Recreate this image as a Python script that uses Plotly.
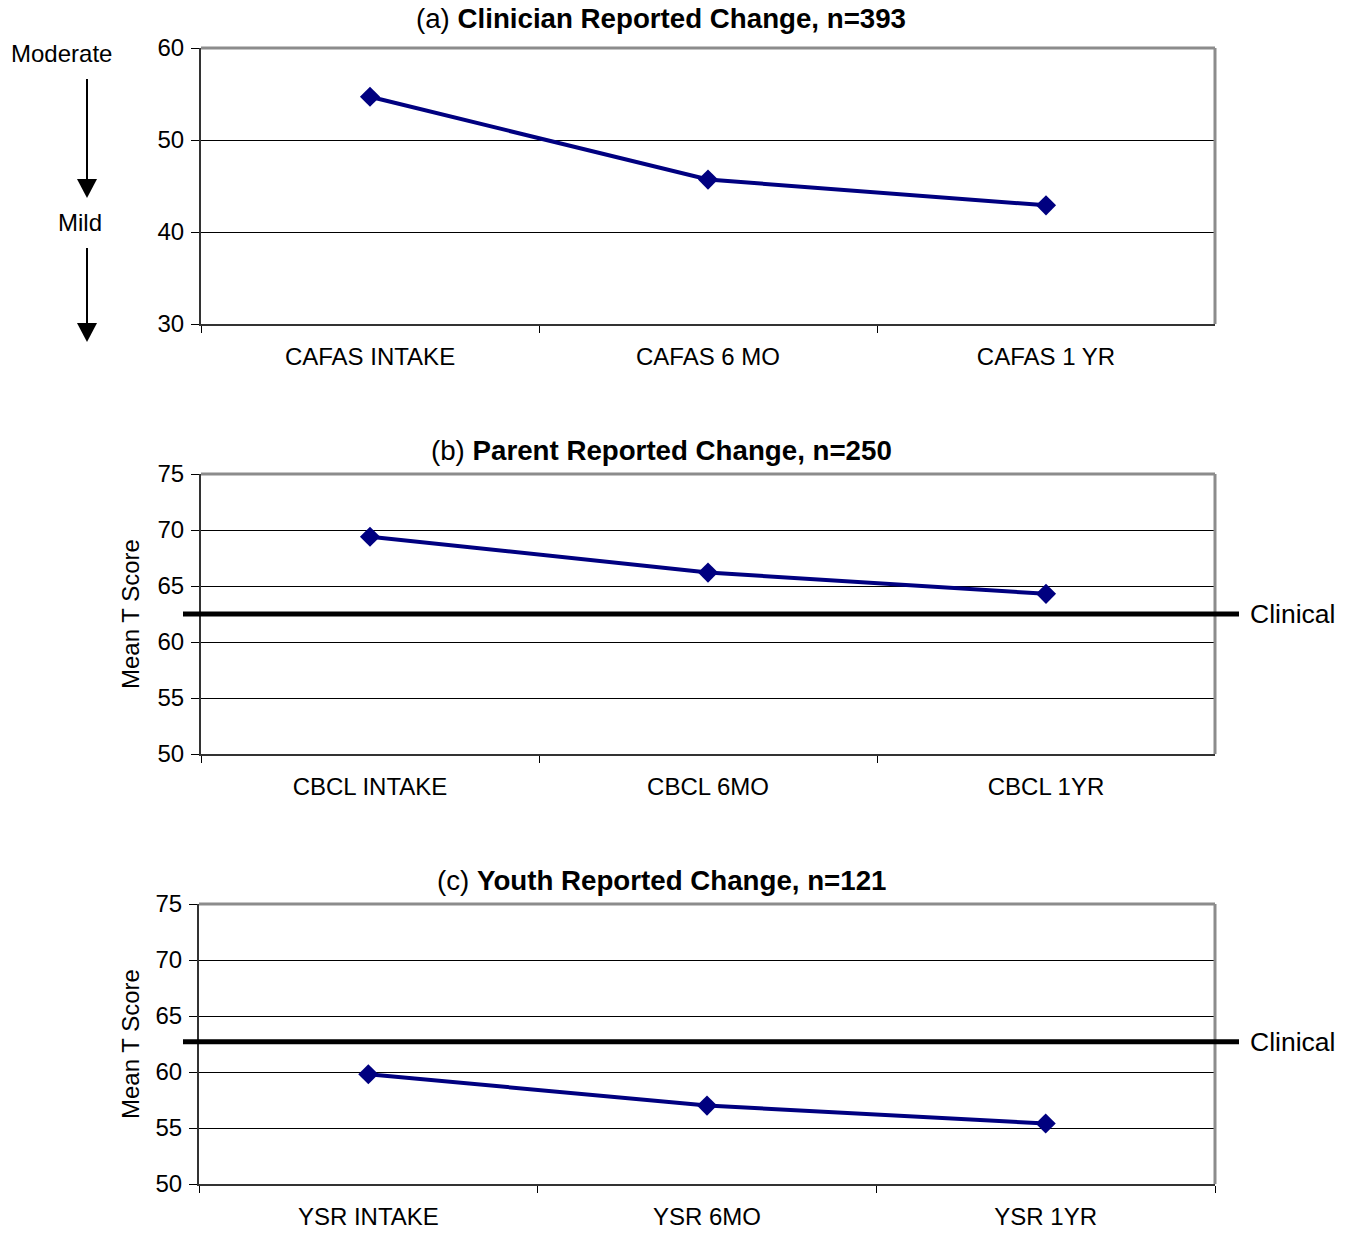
import plotly.graph_objects as go

W, H = 1348, 1236

# ---- data ----
cafas_labels = ["CAFAS INTAKE", "CAFAS 6 MO", "CAFAS 1 YR"]
cafas_values = [54.7, 45.7, 42.9]
cbcl_labels = ["CBCL INTAKE", "CBCL 6MO", "CBCL 1YR"]
cbcl_values = [69.4, 66.2, 64.3]
ysr_labels = ["YSR INTAKE", "YSR 6MO", "YSR 1YR"]
ysr_values = [59.8, 57.0, 55.4]
clinical_cbcl = 62.5
clinical_ysr = 62.7

titles = [
    "(a) <b>Clinician Reported Change, n=393</b>",
    "(b) <b>Parent Reported Change, n=250</b>",
    "(c) <b>Youth Reported Change, n=121</b>",
]

FONT = "Liberation Sans, Arial, sans-serif"
NAVY = "#000080"


def px_x(x):
    return x / W


def px_y(y):
    return 1 - y / H


panels = [
    dict(labels=cafas_labels, values=cafas_values, yr=[30, 60], dt=10,
         x0=201, x1=1215, top=48, bot=324, title_y=19),
    dict(labels=cbcl_labels, values=cbcl_values, yr=[50, 75], dt=5,
         x0=201, x1=1215, top=474, bot=754, title_y=450),
    dict(labels=ysr_labels, values=ysr_values, yr=[50, 75], dt=5,
         x0=199, x1=1215, top=904, bot=1184, title_y=880),
]

fig = go.Figure()
shapes = []
annotations = []

for i, p in enumerate(panels):
    n = "" if i == 0 else str(i + 1)
    xa, ya = "x" + n, "y" + n
    fig.add_trace(go.Scatter(
        x=p["labels"], y=p["values"], xaxis=xa, yaxis=ya, mode="lines+markers",
        line=dict(color=NAVY, width=4),
        marker=dict(symbol="diamond", size=15.5, color=NAVY),
        showlegend=False, hoverinfo="x+y",
    ))
    fig.layout["xaxis" + n] = dict(
        domain=[px_x(p["x0"]), px_x(p["x1"])], anchor=ya, type="category",
        range=[-0.5, 2.5], tickson="boundaries", ticks="outside", ticklen=7,
        tickcolor="black", tickwidth=1, showline=True, linecolor="#333333",
        linewidth=2, showgrid=False, zeroline=False, automargin=False,
        tickfont=dict(family=FONT, size=24, color="black"),
        ticklabelstandoff=10, fixedrange=True,
    )
    fig.layout["yaxis" + n] = dict(
        domain=[px_y(p["bot"]), px_y(p["top"])], anchor=xa,
        range=p["yr"], dtick=p["dt"], tick0=p["yr"][0], ticks="outside", ticklen=8,
        tickcolor="black", tickwidth=1, showline=True, linecolor="#333333",
        linewidth=2, showgrid=True, gridcolor="black", gridwidth=1,
        zeroline=False, automargin=False,
        tickfont=dict(family=FONT, size=24, color="black"),
        ticklabelstandoff=2, fixedrange=True,
    )
    # gray top and right frame
    shapes.append(dict(type="line", xref=xa + " domain", yref=ya + " domain",
                       x0=0, x1=1, y0=1, y1=1, line=dict(color="#8c8c8c", width=3)))
    shapes.append(dict(type="line", xref=xa + " domain", yref=ya + " domain",
                       x0=1, x1=1, y0=0, y1=1, line=dict(color="#8c8c8c", width=3)))
    annotations.append(dict(text=titles[i], x=px_x(661), y=px_y(p["title_y"]),
                            xref="paper", yref="paper", showarrow=False,
                            xanchor="center", yanchor="middle",
                            font=dict(family=FONT, size=27.7, color="black")))

# clinical threshold lines
for n, val, x0, x1 in [("2", clinical_cbcl, 183, 1239),
                       ("3", clinical_ysr, 183, 1239)]:
    shapes.append(dict(type="line", xref="paper", yref="y" + n,
                       x0=px_x(x0), x1=px_x(x1), y0=val, y1=val,
                       line=dict(color="black", width=5)))
    annotations.append(dict(text="Clinical", x=px_x(1248), y=val, xref="paper",
                            yref="y" + n, showarrow=False, xanchor="left",
                            yanchor="middle",
                            font=dict(family=FONT, size=26.5, color="black")))
    annotations.append(dict(text="Mean T Score", x=px_x(130), y=0.5,
                            xref="paper", yref="y" + n + " domain", textangle=-90,
                            showarrow=False, xanchor="center", yanchor="middle",
                            font=dict(family=FONT, size=24, color="black")))

# severity labels and arrows (panel a)
annotations.append(dict(text="Moderate", x=px_x(61), y=px_y(54), xref="paper",
                        yref="paper", showarrow=False, xanchor="center",
                        yanchor="middle", font=dict(family=FONT, size=24, color="black")))
annotations.append(dict(text="Mild", x=px_x(80), y=px_y(222), xref="paper",
                        yref="paper", showarrow=False, xanchor="center",
                        yanchor="middle", font=dict(family=FONT, size=24, color="black")))
for y0, y1 in [(79, 198), (248, 342)]:
    shapes.append(dict(type="line", xref="paper", yref="paper",
                       x0=px_x(87), x1=px_x(87), y0=px_y(y0), y1=px_y(y1 - 16),
                       line=dict(color="black", width=2)))
    path = "M {} {} L {} {} L {} {} Z".format(
        px_x(77), px_y(y1 - 19), px_x(97), px_y(y1 - 19), px_x(87), px_y(y1))
    shapes.append(dict(type="path", xref="paper", yref="paper", path=path,
                       fillcolor="black", line=dict(color="black", width=0)))

fig.update_layout(
    width=W, height=H, margin=dict(l=0, r=0, t=0, b=0, autoexpand=False),
    paper_bgcolor="white", plot_bgcolor="white",
    shapes=shapes, annotations=annotations,
    font=dict(family=FONT, color="black"),
)

fig.write_html("out.html",
               config={"displayModeBar": False},
               post_script="document.body.style.margin='0';"
                           "document.body.style.overflow='hidden';")
